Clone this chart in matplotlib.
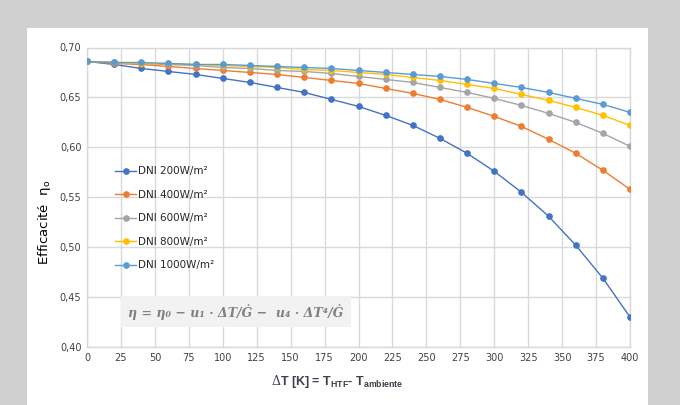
"""Rendement du capteur en fonction de l'écart de température"""

import matplotlib
matplotlib.use('Agg')
import matplotlib.pyplot as plt
from matplotlib.ticker import FuncFormatter, MultipleLocator

# Données
delta_t = [0, 20, 40, 60, 80, 100, 120, 140, 160, 180, 200,
           220, 240, 260, 280, 300, 320, 340, 360, 380, 400]

eta_200 = [0.686, 0.683, 0.679, 0.676, 0.673, 0.669, 0.665, 0.660, 0.655, 0.648, 0.641,
           0.632, 0.622, 0.609, 0.594, 0.576, 0.555, 0.531, 0.502, 0.469, 0.430]
eta_400 = [0.686, 0.684, 0.683, 0.681, 0.679, 0.677, 0.675, 0.673, 0.670, 0.667, 0.664,
           0.659, 0.654, 0.648, 0.640, 0.631, 0.621, 0.608, 0.594, 0.577, 0.558]
eta_600 = [0.686, 0.685, 0.684, 0.683, 0.682, 0.680, 0.679, 0.677, 0.676, 0.674, 0.671,
           0.668, 0.665, 0.660, 0.655, 0.649, 0.642, 0.634, 0.625, 0.614, 0.601]
eta_800 = [0.686, 0.685, 0.684, 0.684, 0.683, 0.682, 0.681, 0.680, 0.678, 0.677, 0.675,
           0.673, 0.670, 0.667, 0.663, 0.659, 0.653, 0.647, 0.640, 0.632, 0.622]
eta_1000 = [0.686, 0.685, 0.685, 0.684, 0.683, 0.683, 0.682, 0.681, 0.680, 0.679, 0.677,
            0.675, 0.673, 0.671, 0.668, 0.664, 0.660, 0.655, 0.649, 0.643, 0.635]

series = [eta_200, eta_400, eta_600, eta_800, eta_1000]
labels = ['DNI 200W/m²', 'DNI 400W/m²', 'DNI 600W/m²', 'DNI 800W/m²', 'DNI 1000W/m²']
colors = ['#4472C4', '#ED7D31', '#A5A5A5', '#FFC000', '#5B9BD5']

plt.rcParams['font.family'] = ['DejaVu Sans']
plt.rcParams['mathtext.fontset'] = 'dejavuserif'

fig = plt.figure(figsize=(6.8, 4.05), dpi=100, facecolor='#d0d0d0')

# panneau blanc
fig.patches.append(plt.Rectangle((27 / 680, 0), (648 - 27) / 680, 1 - 28 / 405,
                                 transform=fig.transFigure, facecolor='white',
                                 edgecolor='none', zorder=-5))

ax = fig.add_axes([87 / 680, 1 - 347 / 405, (630 - 87) / 680, (347 - 47.5) / 405])
ax.set_zorder(2)
ax.set_facecolor('white')

for y, lab, col in zip(series, labels, colors):
    ax.plot(delta_t, y, color=col, linewidth=1, marker='o', markersize=3.8,
            label=lab, zorder=3)

ax.set_xlim(0, 400)
ax.set_ylim(0.40, 0.70)
ax.xaxis.set_major_locator(MultipleLocator(25))
ax.yaxis.set_major_locator(MultipleLocator(0.05))
ax.yaxis.set_major_formatter(FuncFormatter(lambda v, p: f"{v:.2f}".replace('.', ',')))
ax.grid(True, color='#d9d9d9', linewidth=1)
ax.set_axisbelow(True)
for s in ax.spines.values():
    s.set_color('#d9d9d9')
    s.set_linewidth(1)
ax.tick_params(length=0, labelsize=7, colors='#404040', pad=4)

ax.set_ylabel('Efficacité  η$_\\mathregular{o}$', fontsize=9.5, color='black')
ax.yaxis.set_label_coords(-0.063, 0.417)

leg = ax.legend(loc='upper left', bbox_to_anchor=(0.035, 0.635), frameon=False,
                fontsize=7.5, labelspacing=1.3, handlelength=2.0, handletextpad=0.2)
for t in leg.get_texts():
    t.set_color('#262626')

# formule
ax.text(0.076, 0.118, 'η = η₀ − u₁ · ΔT/Ġ −  u₄ · ΔT⁴/Ġ',
        transform=ax.transAxes, fontsize=9, color='#808080', ha='left', va='center',
        family=['DejaVu Serif'], style='italic', fontweight='bold',
        bbox=dict(boxstyle='square,pad=0.6', facecolor='#f2f2f2', edgecolor='none'),
        zorder=4)

fig.text(337 / 680, 1 - 382 / 405,
         r'$\Delta$T [K] = T$_\mathregular{HTF}$- T$_\mathregular{ambiente}$',
         ha='center', va='center', fontsize=9, fontweight='bold', color='#3a3f4a',
         family=['Liberation Sans', 'DejaVu Sans'])

plt.savefig('out.png', dpi=100, facecolor=fig.get_facecolor())
